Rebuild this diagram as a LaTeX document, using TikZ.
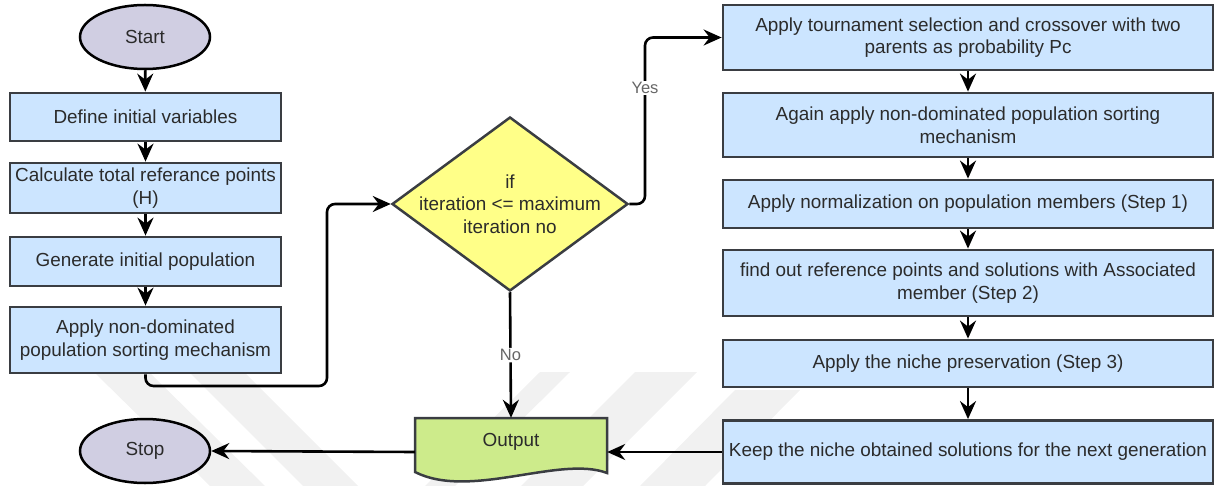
\documentclass[tikz,border=0pt]{standalone}
\usepackage{fontspec}
\setmainfont{Liberation Sans}
\usetikzlibrary{shapes.geometric,arrows.meta}
\definecolor{boxfill}{HTML}{CCE5FF}
\definecolor{boxline}{HTML}{3A3D42}
\definecolor{termfill}{HTML}{D0CEE2}
\definecolor{decfill}{HTML}{FFFF88}
\definecolor{outfill}{HTML}{CDEB8B}
\definecolor{txt}{HTML}{2B2B2B}
\definecolor{wm}{HTML}{F1F1F1}
\begin{document}
\begin{tikzpicture}[x=1pt,y=-1pt,
  font=\fontsize{18.9}{22.5}\selectfont,
  procbox/.style={draw=boxline, fill=boxfill, line width=2.8pt, text=txt, align=center, inner sep=0pt},
  term/.style={ellipse, draw=black, fill=termfill, line width=2.5pt, minimum width=130pt, minimum height=64pt, inner sep=0pt, text=txt},
  conn/.style={draw=black, line width=2.6pt, -{Stealth[length=18pt,width=16pt,inset=6pt]}, rounded corners=8pt},
  lbl/.style={fill=white, text=black!60, inner sep=1.5pt, font=\fontsize{16.5}{19}\selectfont}
]
\useasboundingbox (0,0) rectangle (1228,486);
% watermark
\fill[wm] (95,373) -- (150,373) -- (265,486) -- (210,486) -- cycle;
\fill[wm] (190,373) -- (245,373) -- (358,486) -- (303,486) -- cycle;
\fill[wm] (540,372) -- (570,372) -- (455,486) -- (425,486) -- cycle;
\fill[wm] (635,372) -- (697,372) -- (583,486) -- (521,486) -- cycle;
\fill[wm] (735,390) -- (800,390) -- (705,486) -- (640,486) -- cycle;

% terminals
\node[term] (start) at (145,37) {Start};
\node[term] (stop) at (145,451) {Stop};

% left column
\node[procbox, minimum width=271pt, minimum height=48pt] (b1) at (145.5,117) {Define initial variables};
\node[procbox, minimum width=271pt, minimum height=50pt] (b2) at (145.5,188) {Calculate total referance points\\(H)};
\node[procbox, minimum width=271pt, minimum height=49pt] (b3) at (145.5,261.5) {Generate initial population};
\node[procbox, minimum width=271pt, minimum height=66pt] (b4) at (145.5,340) {Apply non-dominated\\population sorting mechanism};

% decision
\node[diamond, draw=boxline, fill=decfill, line width=2.5pt, minimum width=236pt, minimum height=174pt, inner sep=0pt] (dec) at (510,204) {};
\node[text=txt, align=center] (dtxt) at (510,204) {if\\iteration <= maximum\\iteration no};

% output document shape
\node[minimum width=192pt, minimum height=68pt, inner sep=0pt] (out) at (511,452) {};
\draw[draw=boxline, fill=outfill, line width=2.5pt] (415,418) -- (607,418) -- (607,473) .. controls (560,455) and (470,500) .. (415,472) -- cycle;
\node[text=txt] (outtxt) at (511,442) {Output};

% right column
\node[procbox, minimum width=490pt, minimum height=65pt] (r1) at (968,37.5) {Apply tournament selection and crossover with two\\parents as probability Pc};
\node[procbox, minimum width=490pt, minimum height=64pt] (r2) at (968,125) {Again apply non-dominated population sorting\\mechanism};
\node[procbox, minimum width=490pt, minimum height=48pt] (r3) at (968,204) {Apply normalization on population members (Step 1)};
\node[procbox, minimum width=490pt, minimum height=66pt] (r4) at (968,283) {find out reference points and solutions with Associated\\member (Step 2)};
\node[procbox, minimum width=490pt, minimum height=47pt] (r5) at (968,363.5) {Apply the niche preservation (Step 3)};
\node[procbox, minimum width=490pt, minimum height=63pt] (r6) at (968,452) {Keep the niche obtained solutions for the next generation};

% connectors
\draw[conn] (start) -- (b1);
\draw[conn] (b1) -- (b2);
\draw[conn] (b2) -- (b3);
\draw[conn] (b3) -- (b4);
\coordinate (j1) at (327,386);
\draw[conn] (b4.south) |- (j1) |- (dec.west);
\draw[conn] (dec.south) -- node[lbl, pos=0.5] {No} (out.north);
\coordinate (j2) at (645,37.5);
\draw[conn] (dec.east) -| (j2) -- (r1.west);
\node[lbl] (yes) at (645,88) {Yes};
\draw[conn] (r1) -- (r2);
\draw[conn] (r2) -- (r3);
\draw[conn] (r3) -- (r4);
\draw[conn] (r4) -- (r5);
\draw[conn] (r5) -- (r6);
\draw[conn] (r6.west) -- (out.east);
\draw[conn] (out.west) -- (stop.east);
\end{tikzpicture}
\end{document}
